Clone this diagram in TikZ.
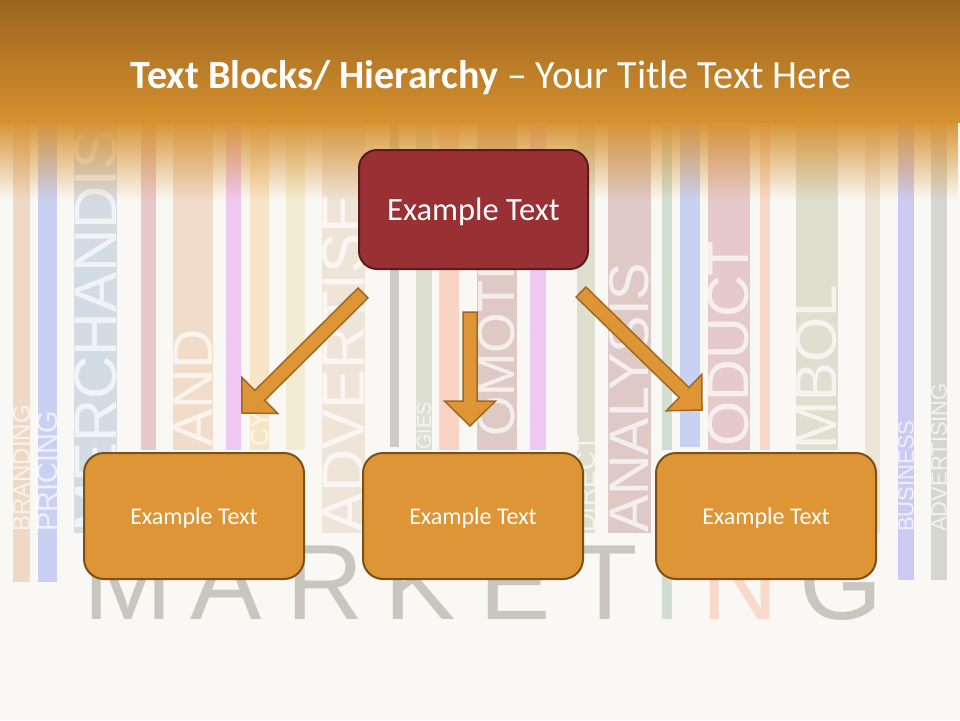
\documentclass[tikz,border=0pt]{standalone}
\usepackage{fontspec}
\setmainfont{Carlito}
\newfontfamily\barfont{Liberation Sans}
\usepackage{tikz}
\usetikzlibrary{calc,fadings}
\definecolor{titletop}{HTML}{9A651F}
\definecolor{titlebot}{HTML}{D6902E}
\definecolor{paper}{HTML}{FAF8F4}
\definecolor{topred}{HTML}{993033}
\definecolor{topredline}{HTML}{5B1B1B}
\definecolor{leaforange}{HTML}{DD9535}
\definecolor{leafline}{HTML}{7D5015}
\definecolor{arrowline}{HTML}{A0691F}
\definecolor{lettergray}{HTML}{C9C6BF}
\definecolor{lettersage}{HTML}{D2DDD2}
\definecolor{letterpeach}{HTML}{F9D9C9}
\tikzfading[name=fadebar, top color=transparent!5, bottom color=transparent!100]
\newcommand{\fsz}[1]{\fontsize{#1}{#1}\selectfont}
% block arrow from #1 to #2 (tip)
\newcommand{\blockarrow}[2]{%
  \draw[blockarrow] let \p1=($(#2)-(#1)$), \n1={atan2(\y1,\x1)}, \n2={veclen(\x1,\y1)} in
    [shift={(#1)}, rotate=\n1]
    (0pt,-7pt) -- ({\n2*1pt-25pt},-7pt) -- ({\n2*1pt-25pt},-25.5pt) -- ({\n2*1pt},0pt)
    -- ({\n2*1pt-25pt},25.5pt) -- ({\n2*1pt-25pt},7pt) -- (0pt,7pt) -- cycle;}

\begin{document}
\begin{tikzpicture}[
      x=1pt, y=-1pt,
      topbox/.style={rectangle, draw=topredline, line width=2pt, rounded corners=18pt,
        fill=topred, minimum width=229pt, minimum height=119pt, text=white,
        text depth=0pt, font=\fsz{32.5}},
      leafbox/.style={rectangle, draw=leafline, line width=2pt, rounded corners=20pt,
        fill=leaforange, minimum width=220pt, minimum height=126pt, text=white,
        text depth=0pt, font=\fsz{24}},
      blockarrow/.style={fill=leaforange, draw=arrowline, line width=1.5pt, line join=miter},
      stripeword/.style={inner sep=0pt, anchor=west, rotate=90, text=white, text opacity=0.7},
      bigletter/.style={inner sep=0pt, anchor=base, font=\barfont\fsz{107}},
  ]
      \useasboundingbox (0,0) rectangle (960,720);
      \fill[paper] (0,0) rectangle (960,720);

      % Background stripes
      \foreach \xa/\xb/\ye/\hex in {13/30/582/F0D9C4, 38/57/582/C9D0F2, 74/117/533/D3DCE3,
          141/156/450/E8C8C8, 173/213/450/F1DBC9, 226/241/450/F0C8F2, 250/269/450/F8E4C6,
          286/305/450/F4ECD2, 322/365/533/EEE4D8, 390/399/447/CBCBCB, 416/432/450/DDE0D0,
          439/459/450/F9D3C4, 477/517/450/DEC9C4, 530/546/450/F0C8F2, 577/595/533/DEDFCF,
          608/651/533/DFC9C6, 662/672/450/D2DED2, 680/700/447/C9D1F3, 708/750/450/E5C9CB,
          760/770/450/FAD8C8, 796/838/450/DEDFCE, 865/880/533/EEE4D8, 898/914/580/CCCAF2,
          931/947/580/D6D6D0}
          {\definecolor{barcol}{HTML}{\hex}\fill[barcol] (\xa,122) rectangle (\xb,\ye);}

      % Words on the stripes
      \foreach \xc/\yb/\fs/\word in {21.5/532/24/BRANDING, 47.5/532/29/PRICING,
          95.5/533/60/MERCHANDIS, 193/447/56/AND, 259.5/447/25/CY, 343.5/533/60/ADVERTISE,
          424/450/20/GIES, 497/437/52/OMOTI, 586/533/26/DIRECT, 629.5/533/56/ANALYSIS,
          729/447/58/ODUCT, 817/450/58/MBOL, 906/532/22/BUSINESS, 939/532/22/ADVERTISING}
          \node[stripeword, font=\barfont\fsz{\fs}] (w\word) at (\xc,\yb) {\word};

      % MARKETING
      \foreach \lx/\lt/\lc in {128/M/lettergray, 226/A/lettergray, 325/R/lettergray,
          420/K/lettergray, 515/E/lettergray, 605/T/lettergray, 667/I/lettersage,
          740/N/letterpeach, 841/G/lettergray}
          \node[bigletter, text=\lc] (m\lt) at (\lx,619) {\lt};

      % Title bar
      \shade[top color=titletop, bottom color=titlebot] (0,0) rectangle (960,122);
      \fill[titlebot, path fading=fadebar] (0,122) rectangle (960,200);
      \node[anchor=base, text=white, font=\fsz{40}] (title) at (491,88)
          {\textbf{Text Blocks/ Hierarchy} – Your Title Text Here};

      % Hierarchy
      \node[topbox] (top) at (473.5,209.5) {Example Text};
      \node[leafbox] (leafL) at (194,516) {Example Text};
      \node[leafbox] (leafM) at (473,516) {Example Text};
      \node[leafbox] (leafR) at (766,516) {Example Text};

      \coordinate (lA) at ($(top.south)+(-110.5,23)$);
      \coordinate (lT) at ($(leafL.north)+(48,-39)$);
      \coordinate (mA) at ($(top.south)+(-3.5,42)$);
      \coordinate (mT) at ($(leafM.north)+(-3,-26)$);
      \coordinate (rA) at ($(top.south)+(107.5,22)$);
      \coordinate (rT) at ($(leafR.north)+(-64,-42)$);
      \blockarrow{lA}{lT}
      \blockarrow{mA}{mT}
      \blockarrow{rA}{rT}

  \end{tikzpicture}
\end{document}
